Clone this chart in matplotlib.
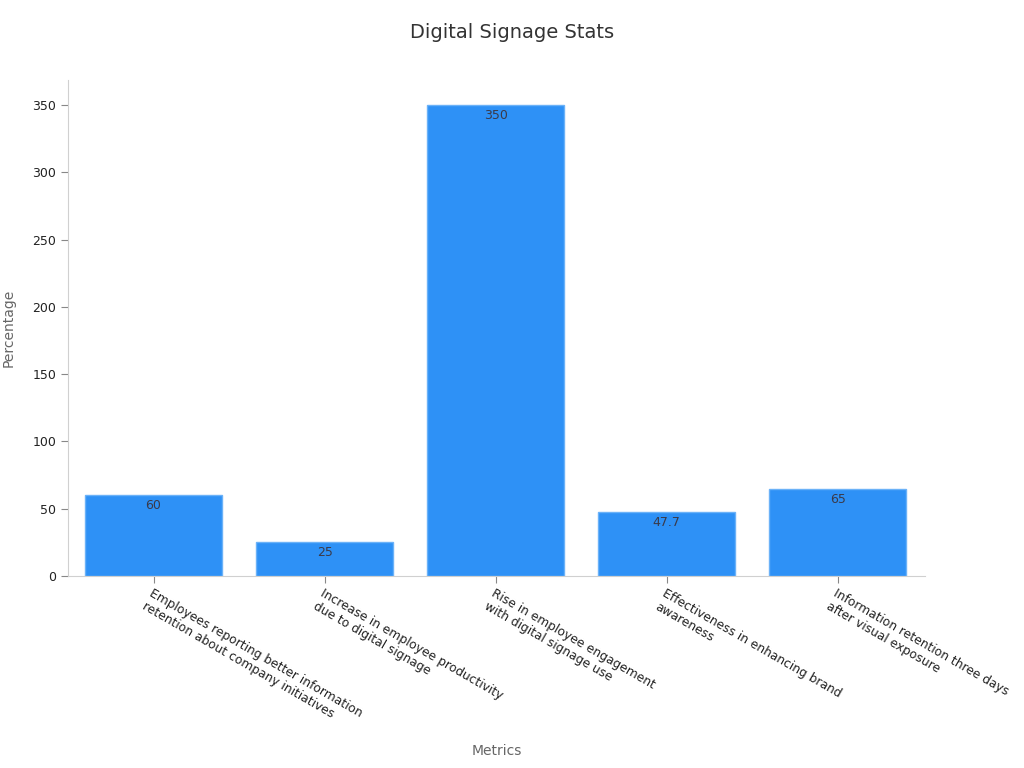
import matplotlib
matplotlib.use("Agg")
import matplotlib.pyplot as plt

categories = [
    "Employees reporting better information\nretention about company initiatives",
    "Increase in employee productivity\ndue to digital signage",
    "Rise in employee engagement\nwith digital signage use",
    "Effectiveness in enhancing brand\nawareness",
    "Information retention three days\nafter visual exposure",
]
values = [60, 25, 350, 47.7, 65]
value_labels = ["60", "25", "350", "47.7", "65"]

fig = plt.figure(figsize=(10.24, 7.68), dpi=100)
ax = fig.add_axes([68 / 1024, 1 - 576 / 768, (925 - 68) / 1024, (576 - 80) / 768])

x = range(len(categories))
bars = ax.bar(x, values, width=0.8, color="#2E91F6", edgecolor="#6BB2F8", linewidth=1)

for b, lab in zip(bars, value_labels):
    ax.text(b.get_x() + b.get_width() / 2, b.get_height() - 3, lab,
            ha="center", va="top", fontsize=9, color="#3a3a4a")

ax.set_xlim(-0.5, 4.51)
ax.set_ylim(0, 368.5)
ax.set_yticks([0, 50, 100, 150, 200, 250, 300, 350])
ax.set_xticks(list(x))
ax.set_xticklabels(categories, rotation=-30, ha="left", va="top",
                   rotation_mode="anchor", fontsize=8.8, color="#222222")
ax.tick_params(axis="y", labelsize=9, colors="#222222", length=5, color="#888888")
ax.tick_params(axis="x", length=5, color="#888888", pad=3)

for s in ["top", "right"]:
    ax.spines[s].set_visible(False)
for s in ["left", "bottom"]:
    ax.spines[s].set_color("#d0d0d0")

ax.set_ylabel("Percentage", fontsize=10, color="#666666", labelpad=12)
fig.text(497 / 1024, 1 - 751 / 768, "Metrics", ha="center", va="center",
         fontsize=10, color="#666666")
fig.text(0.5, 1 - 33 / 768, "Digital Signage Stats", ha="center", va="center",
         fontsize=14, color="#333333")

fig.savefig("out.png", dpi=100)
